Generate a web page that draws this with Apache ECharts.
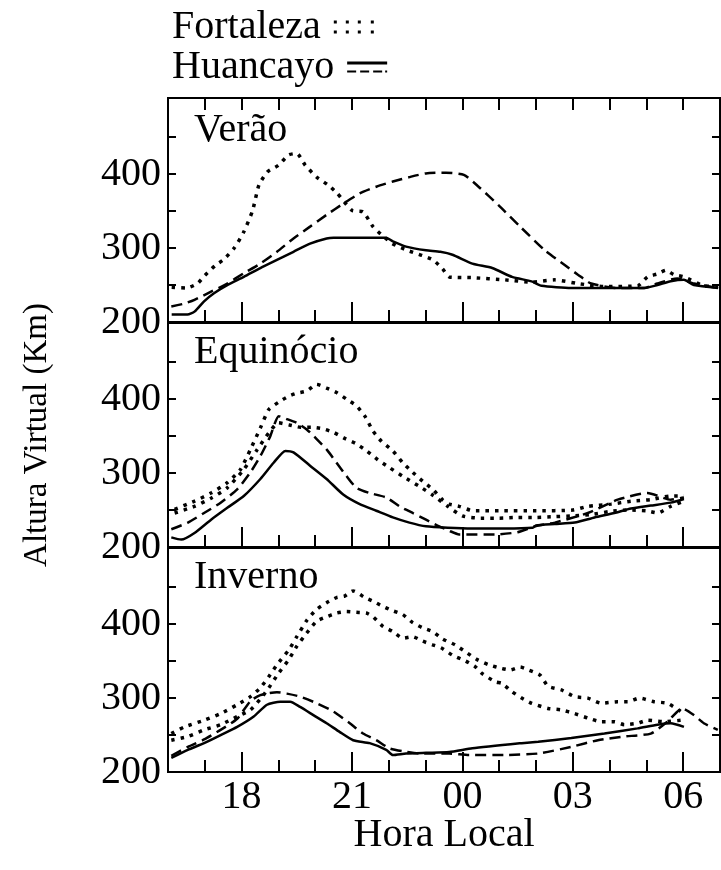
<!DOCTYPE html>
<html><head><meta charset="utf-8">
<script src="https://cdn.jsdelivr.net/npm/echarts@6/dist/echarts.min.js"></script>
<style>html,body{margin:0;padding:0;background:#fff}#c{width:721px;height:870px}</style>
</head><body><div id="c"></div>
<script>
// ---------- data (hour of local time, 24 = 00h, 30 = 06h ; virtual height km) ----------
const hourLabels = [18, 21, 24, 27, 30];
const hourMinorTicks = [17, 19, 20, 22, 23, 25, 26, 28, 29];
const hourTopTicks = [17, 18, 19, 20, 21, 22, 23, 24, 25, 26, 27, 28, 29, 30];
const heightTicks = [250, 300, 350, 400, 450];
const heightLabels = [200, 300, 400];
const panelNames = ['Verão', 'Equinócio', 'Inverno'];
const legendNames = ['Fortaleza', 'Huancayo'];

const veraoFortaleza = [[16.1,247],[16.5,246],[16.8,252],[17.0,263],[17.3,277],[17.5,284],[17.8,300],[18.06,322],[18.3,351],[18.47,385],[18.7,403],[19.0,412],[19.28,426],[19.5,428],[19.73,412],[20.04,396],[20.36,385],[20.6,374],[21.0,351],[21.3,349],[21.57,329],[21.85,316],[22.1,306],[22.5,297],[22.9,290],[23.2,284],[23.46,272],[23.64,261],[24.27,260],[25.16,257],[25.88,254],[26.5,257],[27.14,252],[27.86,248],[28.76,249],[29.03,261],[29.3,265],[29.53,270],[29.75,264],[30.02,261],[30.56,249],[30.95,248]];
const veraoHuancayoSolid = [[16.1,210],[16.53,210],[16.72,214],[16.98,228],[17.25,239],[17.61,250],[18.06,261],[18.51,273],[18.96,284],[19.41,295],[19.86,306],[20.31,313],[20.5,314],[21.93,314],[22.11,309],[22.47,302],[23.01,297],[23.4,295],[23.73,291],[24.27,279],[24.81,273],[25.35,261],[25.88,255],[26.15,249],[26.96,246],[27.86,246],[28.94,246],[29.3,250],[29.66,255],[30.02,257],[30.29,250],[30.95,246]];
const veraoHuancayoDashed = [[16.09,221],[16.45,225],[16.72,230],[17.17,241],[17.61,252],[18.06,266],[18.51,279],[18.96,295],[19.41,313],[19.86,329],[20.31,345],[20.76,360],[21.21,374],[21.66,383],[22.11,390],[22.56,396],[23.01,401],[23.55,402],[24.04,399],[24.44,383],[24.98,358],[25.61,327],[26.24,297],[26.78,277],[27.14,264],[27.5,252],[28.22,246],[28.94,246],[29.3,252],[29.84,259],[30.29,252],[30.95,246]];

const equinocioFortalezaA = [[16.18,251],[16.72,262],[17.17,273],[17.61,287],[17.97,305],[18.24,332],[18.51,361],[18.74,386],[19.01,396],[19.28,404],[19.5,408],[19.77,411],[20.04,420],[20.31,415],[20.58,409],[20.85,400],[21.12,391],[21.35,377],[21.57,357],[21.8,343],[22.11,330],[22.38,314],[22.65,301],[22.92,289],[23.19,278],[23.46,264],[23.64,258],[23.91,255],[24.3,249],[25.0,249],[26.0,249],[27.0,250],[27.41,255],[28.04,258],[28.58,262],[29.12,264],[29.66,269],[30.02,269]];
const equinocioFortalezaB = [[16.18,246],[16.72,255],[17.17,266],[17.61,280],[18.06,305],[18.4,330],[18.75,355],[19.0,368],[19.3,365],[19.6,362],[19.9,362],[20.2,360],[20.5,355],[20.8,347],[21.1,340],[21.4,330],[21.7,318],[22.0,308],[22.4,295],[22.8,283],[23.2,270],[23.6,255],[24.0,242],[24.5,239],[25.0,239],[25.5,240],[26.0,240],[26.5,241],[27.0,242],[27.5,244],[28.0,248],[28.5,250],[29.0,249],[29.3,246],[29.66,255],[30.02,262]];
const equinocioHuancayoSolid = [[16.09,213],[16.36,210],[16.72,219],[17.17,237],[17.61,253],[18.06,269],[18.51,292],[18.87,314],[19.19,330],[19.41,328],[19.86,310],[20.31,292],[20.76,271],[21.21,258],[21.66,249],[22.11,240],[22.56,233],[23.01,228],[23.6,226],[24.27,225],[25.16,225],[25.9,226],[26.0,229],[26.51,231],[27.05,233],[27.59,240],[28.13,246],[28.58,252],[29.12,256],[29.66,260],[30.02,265]];
const equinocioHuancayoDashed = [[16.09,224],[16.54,233],[16.98,246],[17.43,260],[17.88,278],[18.24,301],[18.51,323],[18.78,350],[19.01,377],[19.23,373],[19.5,368],[19.77,359],[20.04,346],[20.31,332],[20.58,314],[20.85,296],[21.12,280],[21.48,273],[21.93,267],[22.29,255],[22.65,246],[23.01,237],[23.37,228],[23.64,222],[23.91,217],[24.9,217],[25.5,220],[25.97,228],[26.51,233],[27.41,246],[28.22,264],[29.03,273],[29.66,264],[30.02,267]];

const invernoFortalezaA = [[16.09,252],[16.45,261],[16.98,270],[17.43,279],[17.88,291],[18.24,302],[18.51,314],[18.74,329],[18.96,345],[19.28,365],[19.5,383],[19.77,405],[20.04,420],[20.31,429],[20.58,436],[20.8,438],[21.03,445],[21.35,436],[21.57,431],[21.84,424],[22.11,418],[22.38,413],[22.65,402],[22.92,395],[23.19,390],[23.46,380],[23.8,372],[24.1,362],[24.4,352],[24.72,345],[25.07,340],[25.3,338],[25.57,342],[25.8,338],[26.11,331],[26.33,316],[26.69,311],[27.05,302],[27.41,300],[27.77,293],[28.22,295],[28.49,295],[28.81,300],[29.21,295],[29.57,293],[29.93,282]];
const invernoFortalezaB = [[16.09,243],[16.54,248],[16.98,257],[17.43,264],[17.88,275],[18.24,284],[18.5,298],[18.74,314],[19.01,334],[19.28,352],[19.5,370],[19.77,388],[20.04,404],[20.31,410],[20.58,415],[20.85,417],[21.12,416],[21.39,415],[21.57,410],[21.84,397],[22.11,390],[22.38,381],[22.65,383],[22.92,377],[23.19,372],[23.42,368],[23.73,358],[24.09,350],[24.36,342],[24.54,333],[24.9,322],[25.07,320],[25.34,309],[25.61,300],[25.88,293],[26.33,286],[26.69,284],[27.05,279],[27.41,273],[27.77,268],[28.13,268],[28.4,264],[28.76,266],[29.03,270],[29.48,268],[29.93,270]];
const invernoHuancayoSolid = [[16.09,219],[16.54,230],[16.98,239],[17.43,250],[17.88,261],[18.33,275],[18.69,291],[19.05,295],[19.32,295],[19.59,288],[19.95,277],[20.31,266],[20.67,254],[21.03,243],[21.48,239],[21.93,230],[22.11,223],[22.47,225],[23.01,226],[23.64,227],[24.27,232],[25.61,239],[26.06,241],[26.96,246],[27.86,252],[28.76,259],[29.3,264],[29.66,266],[30.02,261]];
const invernoHuancayoDashed = [[16.09,222],[16.54,234],[16.98,244],[17.43,257],[17.88,272],[18.24,296],[18.51,304],[18.96,308],[19.23,306],[19.59,302],[20.04,293],[20.49,282],[20.94,266],[21.3,252],[21.66,243],[22.02,232],[22.38,228],[22.83,225],[23.64,225],[24.18,223],[25.16,223],[26.06,225],[26.96,234],[27.68,243],[28.4,248],[29.12,252],[29.57,268],[29.97,286],[30.29,277],[30.56,266],[30.94,257]];

// ---------- layout & style ----------
const FONT = '"Liberation Serif","Times New Roman",serif';
const BLACK = '#000';
const FS = 40;
const panelTops = [98, 323, 548];
const panelHeight = 224;
const yMin = 200, yMax = 503;
const xMin = 16, xMax = 31;

const panels = [
  [ {d: veraoFortaleza, k: 'dot'}, {d: veraoHuancayoSolid, k: 'solid'}, {d: veraoHuancayoDashed, k: 'dash'} ],
  [ {d: equinocioFortalezaA, k: 'dot'}, {d: equinocioFortalezaB, k: 'dot'}, {d: equinocioHuancayoSolid, k: 'solid'}, {d: equinocioHuancayoDashed, k: 'dash'} ],
  [ {d: invernoFortalezaA, k: 'dot'}, {d: invernoFortalezaB, k: 'dot'}, {d: invernoHuancayoSolid, k: 'solid'}, {d: invernoHuancayoDashed, k: 'dash'} ]
];
const lineStyles = {
  dot:   {name: legendNames[0], style: {color: BLACK, width: 3.5, type: [3.5, 6], cap: 'butt'}},
  solid: {name: legendNames[1], style: {color: BLACK, width: 2.5, type: 'solid'}},
  dash:  {name: legendNames[1], style: {color: BLACK, width: 2.5, type: [11, 6], cap: 'butt'}}
};
const legendIcons = [
  'path://M0,0h3v3h-3zM12,0h3v3h-3zM24,0h3v3h-3zM37,0h3v3h-3zM0,10h3v3h-3zM12,10h3v3h-3zM24,10h3v3h-3zM37,10h3v3h-3z',
  'path://M0,0h40v3h-40zM0,9h9v2h-9zM13,9h9v2h-9zM26,9h9v2h-9zM38,9h2v2h-2z'
];

const grids = [], xAxes = [], yAxes = [], series = [], titles = [];
const tickLine = {color: BLACK, width: 2};
panelTops.forEach((top, g) => {
  grids.push({left: 168, width: 552, top: top, height: panelHeight, show: true,
    borderColor: BLACK, borderWidth: 2, backgroundColor: 'transparent'});
  const mainX = xAxes.length;
  xAxes.push({
    gridIndex: g, type: 'value', min: xMin, max: xMax, position: 'bottom',
    axisLine: {show: false}, splitLine: {show: false},
    axisTick: {show: true, inside: true, length: 20, customValues: hourLabels, lineStyle: tickLine},
    axisLabel: {show: g === 2, customValues: hourLabels, margin: 5,
      formatter: v => String(v % 24).padStart(2, '0'),
      fontFamily: FONT, fontSize: FS, color: BLACK},
    name: g === 2 ? 'Hora Local' : '', nameLocation: 'middle', nameGap: 43,
    nameMoveOverlap: false,
    nameTextStyle: {fontFamily: FONT, fontSize: FS, color: BLACK}
  });
  xAxes.push({
    gridIndex: g, type: 'value', min: xMin, max: xMax, position: 'bottom',
    axisLine: {show: false}, splitLine: {show: false}, axisLabel: {show: false},
    axisTick: {show: true, inside: true, length: 12, customValues: hourMinorTicks, lineStyle: tickLine}
  });
  if (g === 0) {
    xAxes.push({
      gridIndex: g, type: 'value', min: xMin, max: xMax, position: 'top',
      axisLine: {show: false}, splitLine: {show: false}, axisLabel: {show: false},
      axisTick: {show: true, inside: true, length: 12, customValues: hourTopTicks, lineStyle: tickLine}
    });
  }
  const mainY = yAxes.length;
  yAxes.push({
    gridIndex: g, type: 'value', min: yMin, max: yMax, position: 'left',
    axisLine: {show: false}, splitLine: {show: false},
    axisTick: {show: true, inside: true, length: 8, customValues: heightTicks, lineStyle: tickLine},
    axisLabel: {show: true, customValues: heightLabels, margin: 7,
      fontFamily: FONT, fontSize: FS, color: BLACK},
    name: g === 1 ? 'Altura Virtual (Km)' : '', nameLocation: 'middle', nameGap: 114,
    nameMoveOverlap: false,
    nameTextStyle: {fontFamily: FONT, fontSize: 33, color: BLACK}
  });
  yAxes.push({
    gridIndex: g, type: 'value', min: yMin, max: yMax, position: 'right',
    axisLine: {show: false}, splitLine: {show: false}, axisLabel: {show: false},
    axisTick: {show: true, inside: true, length: 8, customValues: heightTicks, lineStyle: tickLine}
  });
  panels[g].forEach(s => {
    const ls = lineStyles[s.k];
    series.push({
      type: 'line', name: ls.name, xAxisIndex: mainX, yAxisIndex: mainY,
      data: s.d, showSymbol: false, symbol: 'none', smooth: 0.2,
      lineStyle: ls.style, itemStyle: {color: BLACK}, silent: true, animation: false
    });
  });
  titles.push({text: panelNames[g], left: 194, top: top + (g === 0 ? 12 : 9), padding: 0,
    textStyle: {fontFamily: FONT, fontSize: FS, fontWeight: 'normal', color: BLACK}});
});

const legends = legendNames.map((n, i) => ({
  left: 172, top: 7 + i * 40, orient: 'vertical', align: 'right', padding: 0,
  itemWidth: 40, itemHeight: 13, selectedMode: false,
  itemStyle: {borderWidth: 0},
  textStyle: {fontFamily: FONT, fontSize: FS, color: BLACK, padding: [0, 8, 0, 0]},
  data: [{name: n, icon: legendIcons[i]}]
}));

const chart = echarts.init(document.getElementById('c'), null, {renderer: 'canvas'});
chart.setOption({
  backgroundColor: '#fff',
  animation: false,
  title: titles,
  legend: legends,
  grid: grids, xAxis: xAxes, yAxis: yAxes, series: series
});
</script></body></html>
